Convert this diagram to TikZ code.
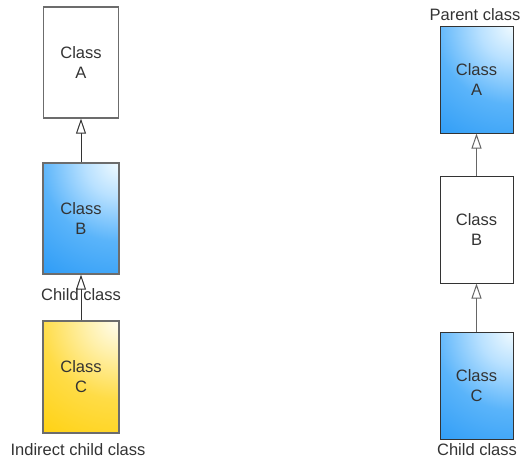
\documentclass[tikz,border=0pt]{standalone}
\usepackage{fontspec}
\setmainfont{Liberation Sans}
\usetikzlibrary{arrows.meta}
\definecolor{txt}{HTML}{333333}
\pgfdeclareradialshading{bluecorner}{\pgfpoint{0bp}{0bp}}{%
  color(0bp)=(rgb,255:red,240;green,250;blue,255);
  color(6bp)=(rgb,255:red,185;green,225;blue,255);
  color(14bp)=(rgb,255:red,90;green,180;blue,250);
  color(24bp)=(rgb,255:red,46;green,156;blue,246);
  color(40bp)=(rgb,255:red,32;green,144;blue,242);
  color(50bp)=(rgb,255:red,22;green,132;blue,234);
  color(100bp)=(rgb,255:red,22;green,132;blue,234)}
\pgfdeclareradialshading{yelcorner}{\pgfpoint{0bp}{0bp}}{%
  color(0bp)=(rgb,255:red,255;green,253;blue,240);
  color(6bp)=(rgb,255:red,255;green,240;blue,170);
  color(14bp)=(rgb,255:red,255;green,220;blue,70);
  color(24bp)=(rgb,255:red,255;green,210;blue,20);
  color(40bp)=(rgb,255:red,255;green,204;blue,0);
  color(50bp)=(rgb,255:red,246;green,196;blue,0);
  color(100bp)=(rgb,255:red,246;green,196;blue,0)}
\tikzset{
  cls/.style={rectangle, minimum width=#1, minimum height=111pt, inner sep=0pt,
    align=center, font=\fontsize{16.5}{20}\selectfont, text=txt},
  cls/.default=76pt,
  leftbox/.style={draw=gray!85!black, line width=1.3pt},
  rightbox/.style={draw=black!80, line width=1pt},
  blueshade/.style={path picture={\shade[shading=bluecorner] (path picture bounding box.north east) circle (140pt);}},
  yelshade/.style={path picture={\shade[shading=yelcorner] (path picture bounding box.north east) circle (140pt);}},
  inh/.style={-{Triangle[open, length=15pt, width=10pt, fill=white]}, line width=1pt},
  lbl/.style={font=\fontsize{16.5}{20}\selectfont, text=txt, inner sep=0pt},
}
\begin{document}
\begin{tikzpicture}[x=1pt, y=-1pt]
\useasboundingbox (0,0) rectangle (523,461);
% left column
\node[cls=75pt, leftbox, fill=white] (lA) at (81,62.5) {Class\\A};
\node[cls, leftbox, blueshade] (lB) at (81,218.5) {Class\\B};
\node[cls, minimum height=112pt, leftbox, yelshade] (lC) at (81,377) {Class\\C};
\draw[inh, draw=black!80] (lB.north) -- (lA.south);
\draw[inh, draw=black!80] (lC.north) -- (lB.south);
\node[lbl] (lchild) at (81,295) {Child class};
\node[lbl] (lind) at (78,450) {Indirect child class};
% right column
\node[cls=73pt, minimum height=107pt, rightbox, blueshade] (rA) at (476.5,79.5) {Class\\A};
\node[cls=73pt, minimum height=107pt, rightbox, fill=white] (rB) at (476.5,229.5) {Class\\B};
\node[cls=73pt, minimum height=107pt, rightbox, blueshade] (rC) at (476.5,385.5) {Class\\C};
\draw[inh, draw=black!60] (rB.north) -- (rA.south);
\draw[inh, draw=black!60] (rC.north) -- (rB.south);
\node[lbl] (rpar) at (475,15) {Parent class};
\node[lbl] (rchild) at (477,450) {Child class};
\end{tikzpicture}
\end{document}
